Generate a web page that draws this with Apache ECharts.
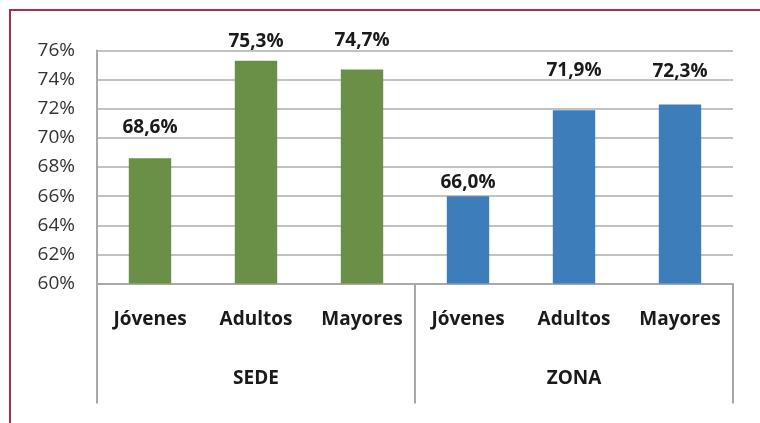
<!DOCTYPE html>
<html>
<head>
<meta charset="utf-8">
<script src="https://cdn.jsdelivr.net/npm/echarts@6/dist/echarts.min.js"></script>
<style>
  html, body { margin: 0; padding: 0; background: #ffffff; }
  #chart { width: 760px; height: 423px; }
</style>
</head>
<body>
<div id="chart"></div>
<script>
const categories = ['Jóvenes', 'Adultos', 'Mayores', 'Jóvenes', 'Adultos', 'Mayores'];
const groups = ['SEDE', 'ZONA'];
const groupOf = [0, 0, 0, 1, 1, 1];
const values = [68.6, 75.3, 74.7, 66.0, 71.9, 72.3];
const yTicks = [60, 62, 64, 66, 68, 70, 72, 74, 76];

const groupColors = ['#6A8F46', '#3C7DBA'];
const labelGap = [21, 10, 19, 4, 30, 23];
const FONT = '"Open Sans", "Noto Sans", sans-serif';

const chart = echarts.init(document.getElementById('chart'), null, { renderer: 'canvas' });

const option = {
  animation: false,
  backgroundColor: '#ffffff',
  grid: { left: 97, right: 27, top: 50.5, bottom: 139.5, containLabel: false },
  graphic: [{
    type: 'rect',
    shape: { x: 10, y: 10, width: 900, height: 600 },
    style: { fill: 'none', stroke: '#A3304F', lineWidth: 2 },
    silent: true
  }],
  xAxis: [{
    type: 'category',
    position: 'bottom',
    data: categories,
    boundaryGap: true,
    axisLine: { show: true, lineStyle: { color: '#A8A8A8', width: 2 } },
    axisTick: { show: false },
    splitLine: { show: false },
    axisLabel: {
      interval: 0, margin: 27, color: '#1A1A1A',
      fontFamily: FONT, fontWeight: 'bold', fontSize: 19
    }
  }, {
    type: 'category',
    position: 'bottom',
    data: groups,
    boundaryGap: true,
    axisLine: { show: false },
    axisTick: { show: true, length: 120, lineStyle: { color: '#A8A8A8', width: 2 } },
    splitLine: { show: false },
    axisLabel: {
      interval: 0, margin: 86, color: '#1A1A1A',
      fontFamily: FONT, fontWeight: 'bold', fontSize: 19
    }
  }],
  yAxis: {
    type: 'value',
    min: yTicks[0],
    max: yTicks[yTicks.length - 1],
    interval: yTicks[1] - yTicks[0],
    axisLine: { show: true, lineStyle: { color: '#A8A8A8', width: 2 } },
    axisTick: { show: false },
    splitLine: { show: true, lineStyle: { color: '#C2C2C2', width: 2 } },
    axisLabel: {
      margin: 22, color: '#333333', fontFamily: FONT, fontSize: 19,
      formatter: v => v + '%'
    }
  },
  series: [{
    type: 'bar',
    xAxisIndex: 0,
    barWidth: '40%',
    data: values.map((v, i) => ({
      value: v,
      itemStyle: { color: groupColors[groupOf[i]] },
      label: { distance: labelGap[i] }
    })),
    label: {
      show: true,
      position: 'top',
      color: '#1A1A1A',
      fontFamily: FONT,
      fontWeight: 'bold',
      fontSize: 19,
      formatter: p => p.value.toFixed(1).replace('.', ',') + '%'
    }
  }]
};

chart.setOption(option);
</script>
</body>
</html>
